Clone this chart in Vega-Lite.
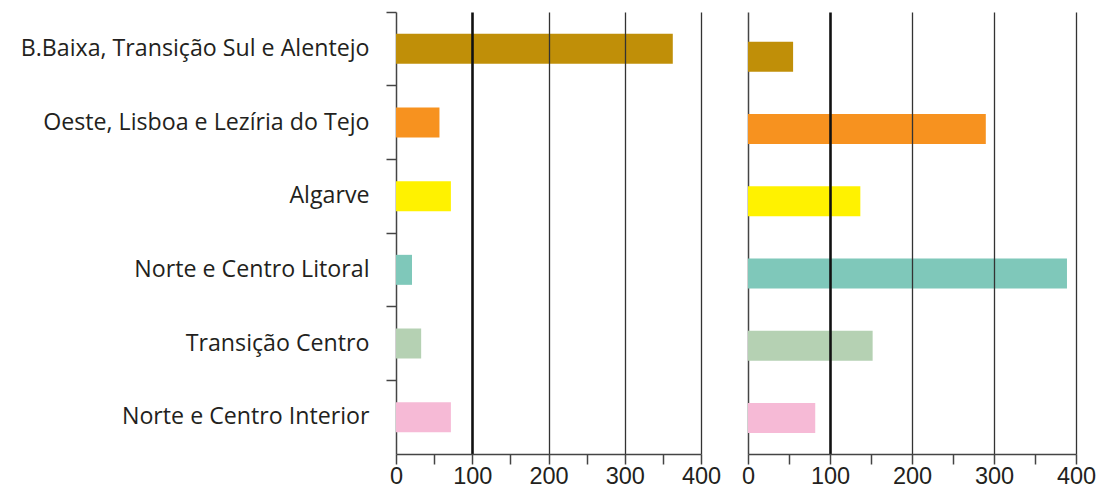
{
  "$schema": "https://vega.github.io/schema/vega-lite/v6.json",
  "data": {"values": [
    {"panel": "A", "region": "B.Baixa, Transição Sul e Alentejo", "value": 363},
    {"panel": "A", "region": "Oeste, Lisboa e Lezíria do Tejo", "value": 57},
    {"panel": "A", "region": "Algarve", "value": 72},
    {"panel": "A", "region": "Norte e Centro Litoral", "value": 21},
    {"panel": "A", "region": "Transição Centro", "value": 33},
    {"panel": "A", "region": "Norte e Centro Interior", "value": 72},
    {"panel": "B", "region": "B.Baixa, Transição Sul e Alentejo", "value": 55},
    {"panel": "B", "region": "Oeste, Lisboa e Lezíria do Tejo", "value": 290},
    {"panel": "B", "region": "Algarve", "value": 137},
    {"panel": "B", "region": "Norte e Centro Litoral", "value": 389},
    {"panel": "B", "region": "Transição Centro", "value": 152},
    {"panel": "B", "region": "Norte e Centro Interior", "value": 82}
  ]},
  "bounds": "flush",
  "spacing": 47,
  "padding": {"left": 20, "top": 11, "right": 5, "bottom": 0},
  "resolve": {"scale": {"x": "independent", "y": "independent"}},
  "config": {
    "view": {"stroke": null},
    "font": "Open Sans",
    "axis": {
      "labelFont": "Open Sans",
      "labelColor": "#231F20",
      "domainColor": "#444444",
      "domainWidth": 1.5,
      "tickColor": "#444444",
      "tickWidth": 1.5,
      "tickSize": 10
    }
  },
  "hconcat": [
    {
      "width": 305,
      "height": 442,
      "transform": [{"filter": "datum.panel === 'A'"}],
      "mark": {"type": "bar", "size": 30},
      "encoding": {
        "y": {
          "field": "region", "type": "nominal", "sort": null, "title": null,
          "scale": {"paddingInner": 0, "paddingOuter": 0},
          "axis": {"bandPosition": 0, "labelFontSize": 23.2, "labelPadding": 17, "labelLimit": 400, "grid": false}
        },
        "x": {
          "field": "value", "type": "quantitative", "title": null,
          "scale": {"domain": [0, 400], "nice": false},
          "axis": {
            "values": [0, 50, 100, 150, 200, 250, 300, 350, 400],
            "labelExpr": "datum.value % 100 === 0 ? datum.label : ''",
            "labelFont": "Liberation Sans",
            "labelFontSize": 23.5, "labelPadding": 0, "labelFlush": false,
            "zindex": 1,
            "grid": true,
            "gridOpacity": {"condition": {"test": "datum.value % 100 === 0 && datum.value > 0", "value": 1}, "value": 0},
            "gridWidth": {"condition": {"test": "datum.value === 100", "value": 2.6}, "value": 1.3},
            "gridColor": {"condition": {"test": "datum.value === 100", "value": "#111111"}, "value": "#333333"}
          }
        },
        "color": {
          "field": "region", "type": "nominal", "legend": null,
          "scale": {
            "domain": ["B.Baixa, Transição Sul e Alentejo", "Oeste, Lisboa e Lezíria do Tejo", "Algarve", "Norte e Centro Litoral", "Transição Centro", "Norte e Centro Interior"],
            "range": ["#C08F08", "#F7921F", "#FFF200", "#7FC8BA", "#B5D1B3", "#F6BAD6"]
          }
        }
      }
    },
    {
      "width": 328,
      "height": 442,
      "transform": [{"filter": "datum.panel === 'B'"}],
      "mark": {"type": "bar", "size": 30},
      "encoding": {
        "y": {
          "field": "region", "type": "nominal", "sort": null, "title": null,
          "scale": {"paddingInner": 0, "paddingOuter": 0.06, "align": 1},
          "axis": {"labels": false, "ticks": false, "grid": false}
        },
        "x": {
          "field": "value", "type": "quantitative", "title": null,
          "scale": {"domain": [0, 400], "nice": false},
          "axis": {
            "values": [0, 50, 100, 150, 200, 250, 300, 350, 400],
            "labelExpr": "datum.value % 100 === 0 ? datum.label : ''",
            "labelFont": "Liberation Sans",
            "labelFontSize": 23.5, "labelPadding": 0, "labelFlush": false,
            "zindex": 1,
            "grid": true,
            "gridOpacity": {"condition": {"test": "datum.value % 100 === 0 && datum.value > 0", "value": 1}, "value": 0},
            "gridWidth": {"condition": {"test": "datum.value === 100", "value": 2.6}, "value": 1.3},
            "gridColor": {"condition": {"test": "datum.value === 100", "value": "#111111"}, "value": "#333333"}
          }
        },
        "color": {
          "field": "region", "type": "nominal", "legend": null,
          "scale": {
            "domain": ["B.Baixa, Transição Sul e Alentejo", "Oeste, Lisboa e Lezíria do Tejo", "Algarve", "Norte e Centro Litoral", "Transição Centro", "Norte e Centro Interior"],
            "range": ["#C08F08", "#F7921F", "#FFF200", "#7FC8BA", "#B5D1B3", "#F6BAD6"]
          }
        }
      }
    }
  ]
}
